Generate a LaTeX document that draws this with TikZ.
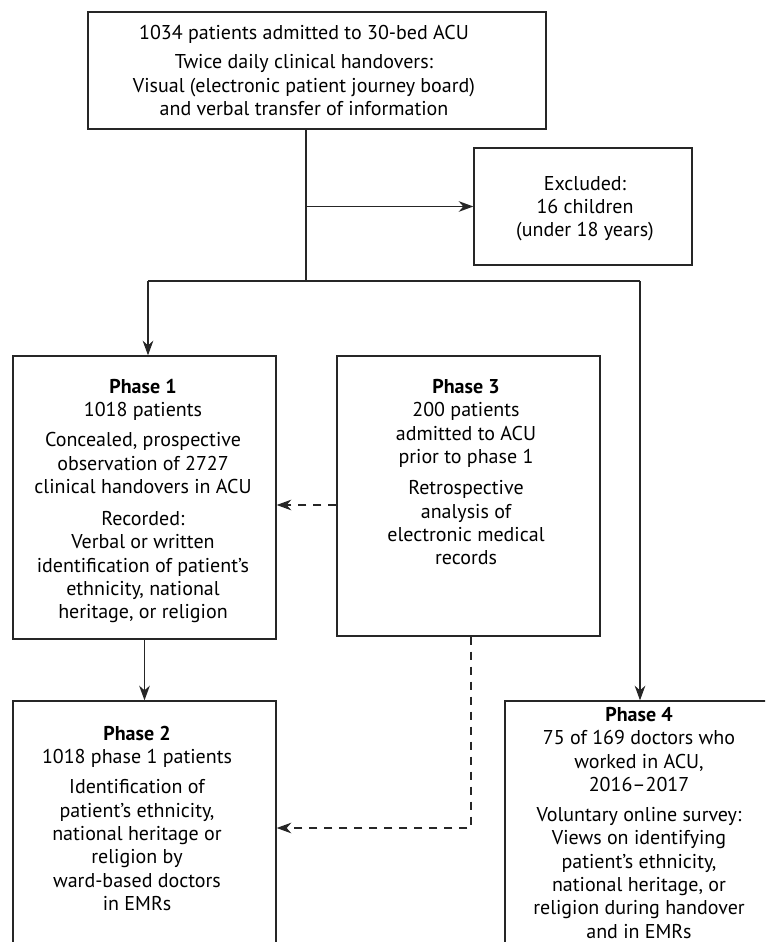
\documentclass[tikz,border=0pt]{standalone}
\usepackage{fontspec}
\setmainfont{PT Sans}
\usetikzlibrary{arrows.meta}
\begin{document}
\begin{tikzpicture}[x=0.75pt,y=-0.75pt,
  box/.style={draw=black!85,line width=1pt,rectangle,inner sep=0pt},
  txt/.style={anchor=north,align=center,inner sep=0pt,font=\fontsize{15}{17.5}\selectfont},
  ln/.style={draw=black!85,line width=1pt},
  arr/.style={ln,-{Stealth[length=11pt,width=8pt,inset=3.5pt]}},
  darr/.style={ln,dash pattern=on 6pt off 5.25pt,-{Stealth[length=11pt,width=8pt,inset=3.5pt]}},
  dln/.style={ln,dash pattern=on 6pt off 5.25pt}]
\useasboundingbox (0,0) rectangle (765,942);
\clip (0,0) rectangle (765,942);
% boxes
\node[box,minimum width=343.5pt,minimum height=87.75pt] (top) at (317,70.5) {};
\node[box,minimum width=163.5pt,minimum height=87.75pt] (excl) at (583,206.5) {};
\node[box,minimum width=197.25pt,minimum height=212.25pt] (p1) at (144.5,497.5) {};
\node[box,minimum width=197.25pt,minimum height=210pt] (p3) at (468.5,496) {};
\node[box,minimum width=197.25pt,minimum height=225pt] (p2) at (144.5,851) {};
\node[box,minimum width=202.5pt,minimum height=225pt] (p4) at (640,851) {};
% texts
\node[txt] (ttop) at (304,25) {1034 patients admitted to 30-bed ACU\\[4.5pt]
Twice daily clinical handovers:\\Visual (electronic patient journey board)\\and verbal transfer of information};
\node[txt] (texcl) at (585,176) {Excluded:\\16 children\\(under 18 years)};
\node[txt] (tp1) at (143,379) {\textbf{Phase 1}\\1018 patients\\[5pt]
Concealed, prospective\\observation of 2727\\clinical handovers in ACU\\[6.5pt]
Recorded:\\Verbal or written\\identification of patient’s\\ethnicity, national\\heritage, or religion};
\node[txt] (tp3) at (466,379) {\textbf{Phase 3}\\200 patients\\admitted to ACU\\prior to phase 1\\[6pt]
Retrospective\\analysis of\\electronic medical\\records};
\node[txt] (tp2) at (137,726) {\textbf{Phase 2}\\1018 phase 1 patients\\[5pt]
Identification of\\patient’s ethnicity,\\national heritage or\\religion by\\ward-based doctors\\in EMRs};
\node[txt] (tp4) at (639,707) {\textbf{Phase 4}\\75 of 169 doctors who\\worked in ACU,\\2016–2017\\[5pt]
Voluntary online survey:\\Views on identifying\\patient’s ethnicity,\\national heritage, or\\religion during handover\\and in EMRs};
% connectors
\coordinate (j1) at (306,206.5);
\coordinate (j2) at (306,281);
\coordinate (jl) at (148,281);
\coordinate (jr) at (640,281);
\coordinate (d1) at (337,505);
\coordinate (d2) at (471,828);
\draw[ln] (top.south -| j2) -- (j2);
\draw[arr] (j1) -- (excl.west);
\draw[ln] (jl) -- (jr);
\draw[arr] (jl) -- (p1.north -| jl);
\draw[arr] (jr) -- (p4.north -| jr);
\draw[arr] (p1) -- (p2);
\draw[darr] (p3.west |- d1) -- (p1.east |- d1);
\draw[darr] (p3.south -| d2) -- (d2) -- (p2.east |- d2);
\end{tikzpicture}
\end{document}
